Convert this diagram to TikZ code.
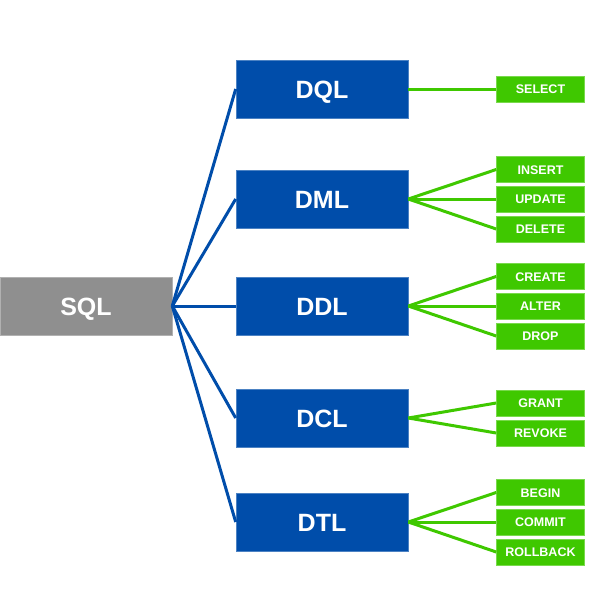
\documentclass[tikz,border=0pt]{standalone}
\usepackage{fontspec}
\setmainfont{Liberation Sans}
\definecolor{sqlgray}{HTML}{8F8F8F}
\definecolor{bblue}{HTML}{004DAA}
\definecolor{ggreen}{HTML}{3FC800}
\begin{document}
\begin{tikzpicture}[x=1pt,y=-1pt,
  root/.style={fill=sqlgray,draw=sqlgray!70!white,line width=0.6pt,minimum width=172pt,minimum height=58pt,inner sep=0pt,text=white,font=\bfseries\fontsize{25}{28}\selectfont,text height=18pt,text depth=0pt},
  cat/.style={fill=bblue,draw=bblue!70!white,line width=0.6pt,minimum width=172pt,minimum height=58pt,inner sep=0pt,text=white,font=\bfseries\fontsize{25}{28}\selectfont,text height=18pt,text depth=0pt},
  cmd/.style={fill=ggreen,draw=ggreen!70!white,line width=0.6pt,minimum width=88pt,minimum height=26pt,inner sep=0pt,text=white,font=\bfseries\fontsize{12.5}{14}\selectfont,text height=9pt,text depth=0pt},
  bl/.style={draw=bblue,line width=3pt},
  gl/.style={draw=ggreen,line width=3pt}]
\useasboundingbox (0,0) rectangle (600,600);
\node[root] (sql) at (86,306) {SQL};
\node[cat] (dql) at (322,89) {DQL};
\node[cat] (dml) at (322,199) {DML};
\node[cat] (ddl) at (322,306) {DDL};
\node[cat] (dcl) at (322,418) {DCL};
\node[cat] (dtl) at (322,522) {DTL};
\node[cmd] (select) at (540.5,89) {SELECT};
\node[cmd] (insert) at (540.5,169.5) {INSERT};
\node[cmd] (update) at (540.5,199) {UPDATE};
\node[cmd] (delete) at (540.5,229) {DELETE};
\node[cmd] (create) at (540.5,276.5) {CREATE};
\node[cmd] (alter) at (540.5,306) {ALTER};
\node[cmd] (drop) at (540.5,336) {DROP};
\node[cmd] (grant) at (540.5,403) {GRANT};
\node[cmd] (revoke) at (540.5,433) {REVOKE};
\node[cmd] (begin) at (540.5,492.5) {BEGIN};
\node[cmd] (commit) at (540.5,522) {COMMIT};
\node[cmd] (rollback) at (540.5,552) {ROLLBACK};
\foreach \c in {dql,dml,ddl,dcl,dtl} \draw[bl] (sql.east) -- (\c.west);
\draw[gl] (dql.east) -- (select.west);
\foreach \c in {insert,update,delete} \draw[gl] (dml.east) -- (\c.west);
\foreach \c in {create,alter,drop} \draw[gl] (ddl.east) -- (\c.west);
\foreach \c in {grant,revoke} \draw[gl] (dcl.east) -- (\c.west);
\foreach \c in {begin,commit,rollback} \draw[gl] (dtl.east) -- (\c.west);
\end{tikzpicture}
\end{document}
